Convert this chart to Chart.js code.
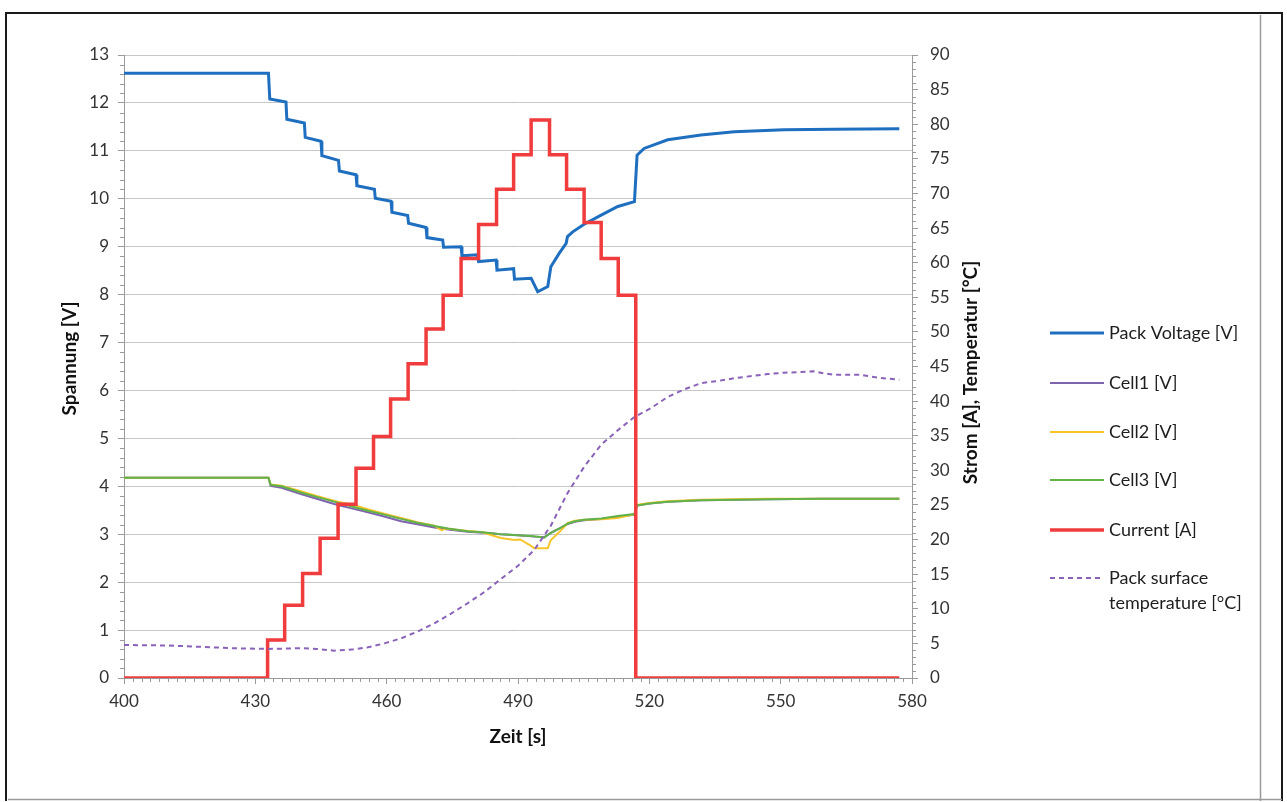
<!DOCTYPE html>
<html>
<head>
<meta charset="utf-8">
<script src="https://cdn.jsdelivr.net/npm/chart.js@4.4.1/dist/chart.umd.min.js"></script>
<style>
  html, body { margin: 0; padding: 0; background: #ffffff; }
  #wrap { width: 1287px; height: 802px; position: relative; }
  canvas { display: block; }
</style>
</head>
<body>
<div id="wrap"><canvas id="c" width="1287" height="802"></canvas></div>
<script>
// ---- Measurement data (time in s) ----
const packTime = [400, 433.0, 433.3, 437.0, 437.2, 441.2, 441.4, 445.0, 445.2, 449.0, 449.2, 453.0, 453.2,
  457.2, 457.4, 461.0, 461.2, 464.8, 465.0, 469.0, 469.2, 472.8, 473.0, 477.0, 477.2, 480.6, 481.0, 485.0,
  485.2, 489.0, 489.2, 493.0, 494.5, 496.8, 497.5, 499.4, 501.0, 501.3, 502.5, 505.1, 509.0, 512.8, 516.6,
  517.2, 518.8, 524.2, 531.8, 539.4, 550.8, 562.2, 577.1];
const packVolt = [12.62, 12.62, 12.08, 12.02, 11.66, 11.58, 11.28, 11.20, 10.90, 10.80, 10.58, 10.50, 10.27,
  10.20, 10.01, 9.95, 9.72, 9.65, 9.49, 9.40, 9.19, 9.14, 8.99, 9.00, 8.81, 8.83, 8.69, 8.72,
  8.51, 8.54, 8.32, 8.34, 8.06, 8.17, 8.58, 8.86, 9.07, 9.21, 9.31, 9.47, 9.66, 9.84, 9.94,
  10.91, 11.05, 11.23, 11.33, 11.40, 11.44, 11.45, 11.46];

const cellTime = [400, 433.0, 433.5, 436.0, 440.4, 444.0, 448.8, 452.0, 455.7, 459.0, 463.3, 467.0, 470.9,
  474.0, 478.5, 482.0, 486.1, 490.0, 493.7, 496.0, 497.5, 499.5, 501.3, 503.0, 505.1, 509.0, 512.8, 516.6,
  517.2, 520.0, 524.2, 531.8, 540.0, 547.0, 560.0, 577.1];
const cell1Volt = [4.18, 4.18, 4.01, 3.97, 3.84, 3.74, 3.61, 3.54, 3.46, 3.38, 3.27, 3.21, 3.14,
  3.10, 3.05, 3.03, 3.00, 2.98, 2.95, 2.94, 3.03, 3.12, 3.21, 3.26, 3.29, 3.32, 3.36, 3.41,
  3.60, 3.64, 3.68, 3.71, 3.72, 3.73, 3.74, 3.74];
const cell3Volt = [4.18, 4.18, 4.03, 4.00, 3.87, 3.78, 3.66, 3.58, 3.49, 3.42, 3.32, 3.24, 3.17,
  3.12, 3.06, 3.04, 3.00, 2.98, 2.96, 2.93, 3.03, 3.12, 3.22, 3.27, 3.30, 3.33, 3.38, 3.42,
  3.60, 3.64, 3.68, 3.71, 3.72, 3.73, 3.74, 3.74];

const cell2Time = [400, 433.0, 433.5, 436.0, 440.4, 444.0, 448.8, 452.0, 455.7, 459.0, 463.3, 467.0, 470.9,
  472.6, 473.4, 478.5, 482.0, 484.0, 486.1, 489.2, 490.5, 492.6, 493.7, 496.8, 497.5, 499.5, 501.3, 503.0,
  505.1, 509.0, 512.8, 516.6, 517.2, 520.0, 524.2, 531.8, 547.0, 577.1];
const cell2Volt = [4.18, 4.18, 4.04, 4.01, 3.90, 3.80, 3.68, 3.62, 3.52, 3.44, 3.34, 3.25, 3.18,
  3.08, 3.12, 3.07, 3.04, 2.98, 2.92, 2.88, 2.89, 2.78, 2.71, 2.71, 2.88, 3.05, 3.23, 3.28,
  3.30, 3.31, 3.34, 3.42, 3.61, 3.65, 3.69, 3.72, 3.74, 3.74];

// Current steps: value holds until the next time stamp
const currTime = [400, 432.8, 436.7, 440.8, 444.8, 448.9, 453.0, 457.0, 460.9, 464.9, 469.0, 472.9, 477.0,
  481.0, 485.1, 489.0, 493.0, 497.2, 501.1, 505.1, 509.0, 512.9, 516.9, 577.1];
const currAmp = [0, 5.5, 10.5, 15.1, 20.2, 25.1, 30.3, 34.9, 40.3, 45.4, 50.4, 55.3, 60.6,
  65.5, 70.6, 75.6, 80.6, 75.6, 70.6, 65.8, 60.6, 55.3, 0, 0];

const tempTime = [400, 410, 417.6, 425, 432.8, 440.4, 444, 448, 452, 455.7, 459.5, 463.3, 467, 470.9, 474.7,
  478.5, 482.3, 486.1, 490, 493.7, 497.5, 501.3, 505.1, 509, 512.8, 516.6, 520.4, 524.2, 528, 531.8, 535.6,
  539.4, 543, 547, 550.8, 554.6, 557.6, 560, 562.2, 565, 568.3, 572, 577.1];
const tempDeg = [4.77, 4.7, 4.5, 4.3, 4.2, 4.3, 4.2, 3.95, 4.1, 4.43, 5.0, 5.73, 6.7, 7.9, 9.3,
  10.8, 12.4, 14.3, 16.2, 18.5, 22.0, 26.7, 30.5, 33.7, 35.8, 37.7, 39.0, 40.6, 41.7, 42.6, 42.9,
  43.3, 43.6, 43.9, 44.1, 44.2, 44.3, 44.0, 43.8, 43.8, 43.8, 43.4, 43.1];

// ---- Axis settings ----
const xTicks = [400, 430, 460, 490, 520, 550, 580];
const voltTicks = [0, 1, 2, 3, 4, 5, 6, 7, 8, 9, 10, 11, 12, 13];
const rightTicks = [0, 5, 10, 15, 20, 25, 30, 35, 40, 45, 50, 55, 60, 65, 70, 75, 80, 85, 90];

const pts = (xs, ys) => xs.map((x, i) => ({ x: x, y: ys[i] }));

const FONT = 'Lato, "Open Sans", "Liberation Sans", sans-serif';
Chart.defaults.font.family = FONT;
Chart.defaults.font.size = 17;
Chart.defaults.color = '#333333';

// White page and the scanned frame around the chart
const framePlugin = {
  id: 'frame',
  beforeDraw(chart) {
    const ctx = chart.ctx;
    ctx.save();
    ctx.fillStyle = '#ffffff';
    ctx.fillRect(0, 0, chart.width, chart.height);
    ctx.strokeStyle = '#1a1a1a';
    ctx.lineWidth = 2;
    ctx.beginPath();
    ctx.moveTo(6, 801); ctx.lineTo(6, 13); ctx.lineTo(1282, 13); ctx.lineTo(1282, 801);
    ctx.stroke();
    ctx.strokeStyle = '#9a9a9a';
    ctx.lineWidth = 1.5;
    ctx.beginPath();
    ctx.moveTo(1260.5, 15); ctx.lineTo(1260.5, 801);
    ctx.moveTo(8, 799.5); ctx.lineTo(1282, 799.5);
    ctx.stroke();
    ctx.restore();
  }
};

// Minor tick marks and the axis titles
const axisDecor = {
  id: 'axisDecor',
  afterDraw(chart) {
    const ctx = chart.ctx;
    const xs = chart.scales.x, yl = chart.scales.y, yr = chart.scales.y1;
    const a = chart.chartArea;
    ctx.save();
    ctx.strokeStyle = '#9a9a9a';
    ctx.lineWidth = 1;
    ctx.beginPath();
    for (let t = 402; t < 580; t += 2) {
      if ((t - 400) % 30 === 0) continue;
      const px = Math.round(xs.getPixelForValue(t)) + 0.5;
      ctx.moveTo(px, a.bottom); ctx.lineTo(px, a.bottom + 4);
    }
    for (let k = 1; k < 65; k++) {
      if (k % 5 === 0) continue;
      const py = Math.round(yl.getPixelForValue(k * 0.2)) + 0.5;
      ctx.moveTo(a.left - 4, py); ctx.lineTo(a.left, py);
    }
    for (let k = 1; k < 90; k++) {
      if (k % 5 === 0) continue;
      const py = Math.round(yr.getPixelForValue(k)) + 0.5;
      ctx.moveTo(a.right, py); ctx.lineTo(a.right + 4, py);
    }
    ctx.stroke();

    ctx.fillStyle = '#111111';
    ctx.font = 'bold 19px ' + FONT;
    ctx.textAlign = 'center';
    ctx.textBaseline = 'middle';
    const midY = (a.top + a.bottom) / 2;
    ctx.fillText('Zeit [s]', (a.left + a.right) / 2, 737);
    ctx.save();
    ctx.translate(70, midY - 8);
    ctx.rotate(-Math.PI / 2);
    ctx.fillText('Spannung [V]', 0, 0);
    ctx.restore();
    ctx.save();
    ctx.translate(971, midY + 6);
    ctx.rotate(-Math.PI / 2);
    ctx.fillText('Strom [A], Temperatur [°C]', 0, 0);
    ctx.restore();
    ctx.restore();
  }
};

// Vertical legend on the right, built from the datasets
const sideLegend = {
  id: 'sideLegend',
  afterDraw(chart) {
    const ctx = chart.ctx;
    const rowY = [333, 383, 432, 480, 530, 578];
    const x0 = 1050, x1 = 1104, tx = 1109, maxW = 150;
    ctx.save();
    ctx.font = '18px ' + FONT;
    ctx.textBaseline = 'middle';
    ctx.textAlign = 'left';
    chart.data.datasets.forEach((ds, i) => {
      const y = rowY[i];
      ctx.strokeStyle = ds.borderColor;
      ctx.lineWidth = ds.borderWidth;
      ctx.setLineDash(ds.borderDash || []);
      ctx.beginPath();
      ctx.moveTo(x0, y); ctx.lineTo(x1, y);
      ctx.stroke();
      ctx.setLineDash([]);
      ctx.fillStyle = '#1e1e1e';
      const words = ds.label.split(' ');
      const lines = [];
      let cur = '';
      words.forEach(w => {
        const test = cur ? cur + ' ' + w : w;
        if (ctx.measureText(test).width > maxW && cur) { lines.push(cur); cur = w; }
        else cur = test;
      });
      lines.push(cur);
      lines.forEach((ln, j) => ctx.fillText(ln, tx, y + j * 25));
    });
    ctx.restore();
  }
};

const lineBase = { pointRadius: 0, pointHoverRadius: 0, tension: 0, fill: false };

new Chart(document.getElementById('c'), {
  type: 'line',
  data: {
    datasets: [
      Object.assign({ label: 'Pack Voltage [V]', data: pts(packTime, packVolt), borderColor: '#1f6fc0',
        borderWidth: 3, yAxisID: 'y', order: 6 }, lineBase),
      Object.assign({ label: 'Cell1 [V]', data: pts(cellTime, cell1Volt), borderColor: '#8064b0',
        borderWidth: 2, yAxisID: 'y', order: 5 }, lineBase),
      Object.assign({ label: 'Cell2 [V]', data: pts(cell2Time, cell2Volt), borderColor: '#f7c52a',
        borderWidth: 2, yAxisID: 'y', order: 4 }, lineBase),
      Object.assign({ label: 'Cell3 [V]', data: pts(cellTime, cell3Volt), borderColor: '#62b24a',
        borderWidth: 2, yAxisID: 'y', order: 3 }, lineBase),
      Object.assign({ label: 'Current [A]', data: pts(currTime, currAmp), borderColor: '#f03c3c',
        borderWidth: 3.5, stepped: 'before', yAxisID: 'y1', order: 2 }, lineBase),
      Object.assign({ label: 'Pack surface temperature [°C]', data: pts(tempTime, tempDeg), borderColor: '#8a62b8',
        borderWidth: 2, borderDash: [5, 4], yAxisID: 'y1', order: 1 }, lineBase)
    ]
  },
  options: {
    responsive: false,
    animation: false,
    devicePixelRatio: 1,
    layout: { padding: { left: 0, right: 315, top: 55, bottom: 64 } },
    plugins: { legend: { display: false }, tooltip: { enabled: false } },
    scales: {
      x: {
        type: 'linear', min: 400, max: 580,
        afterBuildTicks: s => { s.ticks = xTicks.map(v => ({ value: v })); },
        afterFit: s => { s.height = 60; },
        ticks: { padding: 7, maxRotation: 0 },
        grid: { drawOnChartArea: false, tickLength: 6, color: '#9a9a9a' },
        border: { color: '#9a9a9a' }
      },
      y: {
        type: 'linear', position: 'left', min: 0, max: 13,
        afterBuildTicks: s => { s.ticks = voltTicks.map(v => ({ value: v })); },
        afterFit: s => { s.width = 124; },
        ticks: { padding: 9 },
        grid: { color: '#c6c6c6', tickColor: '#9a9a9a', tickLength: 6 },
        border: { color: '#9a9a9a' }
      },
      y1: {
        type: 'linear', position: 'right', min: 0, max: 90,
        afterBuildTicks: s => { s.ticks = rightTicks.map(v => ({ value: v })); },
        afterFit: s => { s.width = 60; },
        ticks: { padding: 12 },
        grid: { drawOnChartArea: false, tickLength: 6, color: '#9a9a9a' },
        border: { color: '#9a9a9a' }
      }
    }
  },
  plugins: [framePlugin, axisDecor, sideLegend]
});
</script>
</body>
</html>
